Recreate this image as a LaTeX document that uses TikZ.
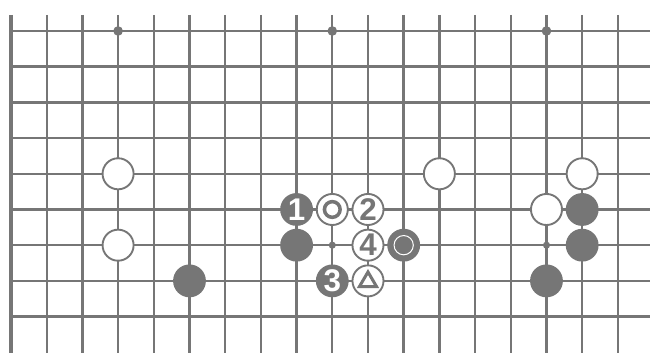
\documentclass[tikz,border=0pt]{standalone}
\usepackage{fontspec}
\setsansfont{Liberation Sans}
\definecolor{ink}{RGB}{118,118,118}
\tikzset{
  gridline/.style={ink, line width=1.9pt},
  edgeline/.style={ink, line width=3.2pt},
  bstone/.style={circle, fill=ink, minimum size=0.92cm, inner sep=0pt, text=white, font=\sffamily\bfseries\fontsize{25}{25}\selectfont},
  wstone/.style={circle, fill=white, draw=ink, line width=1.5pt, minimum size=0.87cm, inner sep=0pt, text=ink, font=\sffamily\bfseries\fontsize{25}{25}\selectfont},
  starpt/.style={circle, fill=ink, minimum size=0.27cm, inner sep=0pt},
  smallpt/.style={circle, fill=ink, minimum size=0.2cm, inner sep=0pt},
}
\begin{document}
\begin{tikzpicture}
\useasboundingbox (-0.308,0.868) rectangle (17.9,-9.02);
% grid
\foreach \i in {1,...,17} \draw[gridline] (\i,0.45) -- (\i,-9.05);
\foreach \j in {0,...,8} \draw[gridline] (0,-\j) -- (17.95,-\j);
\draw[edgeline] (0,0.45) -- (0,-9.05);
% star points
\node[starpt] (s1) at (3,0) {};
\node[starpt] (s2) at (9,0) {};
\node[starpt] (s3) at (15,0) {};
\node[smallpt] (s4) at (9,-6) {};
\node[smallpt] (s5) at (15,-6) {};
% white stones
\node[wstone] (w1) at (3,-4) {};
\node[wstone] (w2) at (3,-6) {};
\node[wstone] (w3) at (12,-4) {};
\node[wstone] (w4) at (16,-4) {};
\node[wstone] (w5) at (15,-5) {};
\node[wstone] (w6) at (9,-5) {};
\draw[ink, line width=2.8pt] (w6.center) circle (0.22);
\node[wstone] (w7) at (10,-5) {2};
\node[wstone] (w8) at (10,-6) {4};
\node[wstone] (w9) at (10,-7) {};
\draw[ink, line width=2.4pt, line join=miter] ([yshift=0.25cm]w9.center) -- ([xshift=-0.24cm,yshift=-0.16cm]w9.center) -- ([xshift=0.24cm,yshift=-0.16cm]w9.center) -- cycle;
% black stones
\node[bstone] (b1) at (8,-5) {1};
\node[bstone] (b2) at (5,-7) {};
\node[bstone] (b3) at (8,-6) {};
\node[bstone] (b4) at (9,-7) {3};
\node[bstone] (b5) at (11,-6) {};
\draw[white, line width=0.8pt] (b5.center) circle (0.27);
\node[bstone] (b6) at (16,-5) {};
\node[bstone] (b7) at (16,-6) {};
\node[bstone] (b8) at (15,-7) {};
\end{tikzpicture}
\end{document}
